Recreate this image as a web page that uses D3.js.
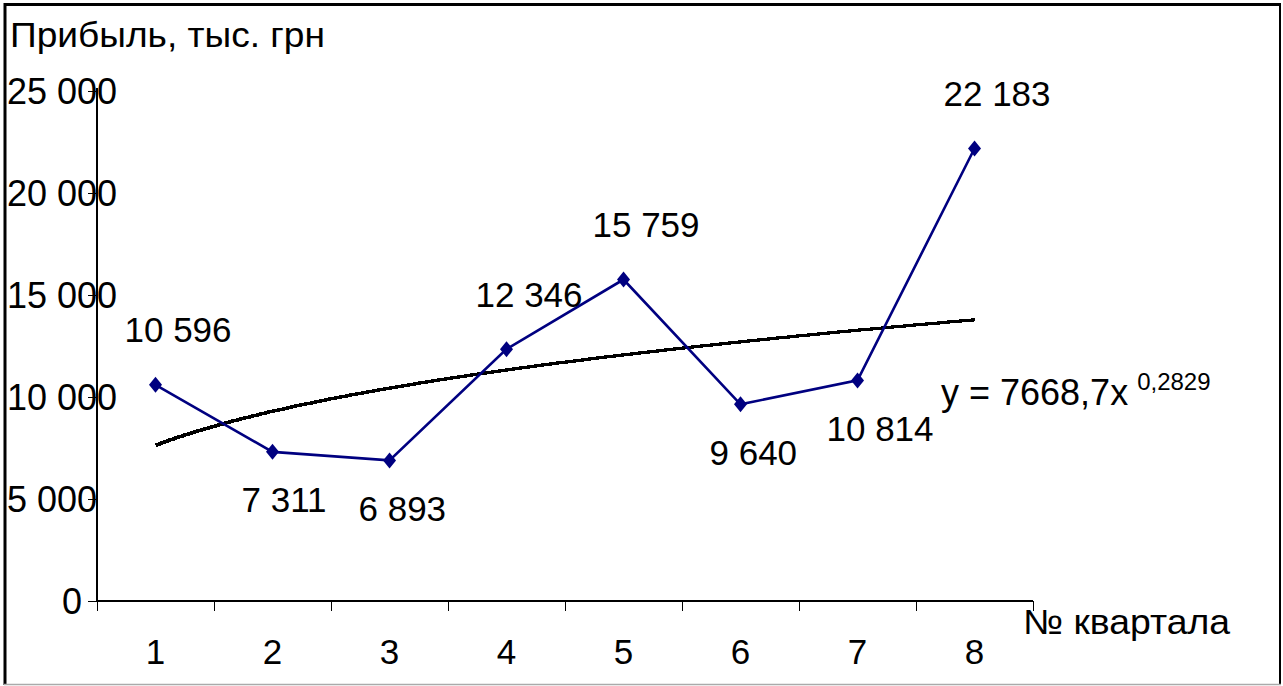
<!DOCTYPE html>
<html>
<head>
<meta charset="utf-8">
<script src="https://cdn.jsdelivr.net/npm/d3@7"></script>
<style>
  html, body { margin: 0; padding: 0; background: #fff; }
  svg text { font-family: "Liberation Sans", Arial, sans-serif; fill: #000; }
</style>
</head>
<body>
<svg id="chart" width="1283" height="686"></svg>
<script>
// Quarterly profit, thousand UAH
const quarters = [1, 2, 3, 4, 5, 6, 7, 8];
const profit = [10596, 7311, 6893, 12346, 15759, 9640, 10814, 22183];
const labelSide = ["above", "below", "below", "above", "above", "below", "below", "above"];
const yTicks = [0, 5000, 10000, 15000, 20000, 25000];
// Power trend y = a * x^b
const trendA = 7668.7;
const trendB = 0.2829;

const svg = d3.select("#chart");
const fmt = v => d3.format(",")(v).replace(/,/g, " ");

const plot = { left: 97, right: 1033, top: 91, bottom: 601 };

const x = d3.scaleBand().domain(quarters).range([plot.left, plot.right]).padding(0);
const cx = q => x(q) + x.bandwidth() / 2;
const xt = d3.scaleLinear().domain([1, 8]).range([cx(1), cx(8)]);
const y = d3.scaleLinear().domain([0, 25000]).range([plot.bottom, plot.top]);

// outer frame
svg.append("line").attr("x1", 5).attr("y1", 3).attr("x2", 5).attr("y2", 685)
  .attr("stroke", "#000").attr("stroke-width", 3);
svg.append("line").attr("x1", 4).attr("y1", 4.5).attr("x2", 1281).attr("y2", 4.5)
  .attr("stroke", "#000").attr("stroke-width", 3);
svg.append("line").attr("x1", 1280).attr("y1", 3).attr("x2", 1280).attr("y2", 685)
  .attr("stroke", "#000").attr("stroke-width", 2);
svg.append("line").attr("x1", 4).attr("y1", 684.5).attr("x2", 1281).attr("y2", 684.5)
  .attr("stroke", "#aaa").attr("stroke-width", 1.5);

// axis titles
svg.append("text").attr("x", 10).attr("y", 47).attr("font-size", 35)
  .attr("textLength", 315).attr("lengthAdjust", "spacingAndGlyphs")
  .text("Прибыль, тыс. грн");
svg.append("text").attr("x", 1023).attr("y", 634).attr("font-size", 35)
  .attr("textLength", 207).attr("lengthAdjust", "spacingAndGlyphs")
  .text("№ квартала");

// y axis
const yAxis = svg.append("g");
yAxis.append("line").attr("x1", plot.left).attr("x2", plot.left)
  .attr("y1", plot.top - 3).attr("y2", plot.bottom + 1)
  .attr("stroke", "#000").attr("stroke-width", 2);
yTicks.forEach(t => {
  yAxis.append("line").attr("x1", plot.left - 9).attr("x2", plot.left)
    .attr("y1", Math.round(y(t)) + 0.5).attr("y2", Math.round(y(t)) + 0.5)
    .attr("stroke", "#000").attr("stroke-width", 1);
  const lbl = yAxis.append("text").attr("font-size", 36)
    .attr("y", y(t)).attr("dy", "0.36em").text(fmt(t));
  const w = lbl.node().getComputedTextLength();
  lbl.attr("x", Math.max(7, 82 - w));
});

// x axis
const xAxis = svg.append("g");
xAxis.append("line").attr("x1", plot.left).attr("x2", plot.right)
  .attr("y1", plot.bottom).attr("y2", plot.bottom)
  .attr("stroke", "#000").attr("stroke-width", 2);
quarters.concat([null]).forEach(q => {
  const px = q === null ? plot.right : x(q);
  xAxis.append("line").attr("x1", Math.round(px) + 0.5).attr("x2", Math.round(px) + 0.5)
    .attr("y1", plot.bottom).attr("y2", plot.bottom + 10)
    .attr("stroke", "#000").attr("stroke-width", 1);
});
quarters.forEach(q => {
  xAxis.append("text").attr("x", cx(q)).attr("y", 664).attr("font-size", 35)
    .attr("text-anchor", "middle").text(q);
});

// trend line, drawn on the pixel grid as a stair-stepped polyline
const trendPts = d3.range(1, 8.0001, 0.01)
  .map(t => [xt(t), Math.round(y(trendA * Math.pow(t, trendB)))]);
svg.append("path").datum(trendPts)
  .attr("d", d3.line().curve(d3.curveStepAfter))
  .attr("fill", "none").attr("stroke", "#000").attr("stroke-width", 3)
  .attr("shape-rendering", "crispEdges");

// series line
const navy = "#000080";
svg.append("path").datum(quarters.map((q, i) => [cx(q), y(profit[i])]))
  .attr("d", d3.line())
  .attr("fill", "none").attr("stroke", navy).attr("stroke-width", 2.6);

// diamond markers
svg.selectAll(".mk").data(quarters).enter().append("path")
  .attr("class", "mk")
  .attr("transform", (q, i) => `translate(${cx(q)},${y(profit[i])})`)
  .attr("d", "M0,-8 L6.5,0 L0,8 L-6.5,0 Z")
  .attr("fill", navy);

// data labels
svg.selectAll(".dl").data(quarters).enter().append("text")
  .attr("class", "dl").attr("font-size", 35)
  .attr("x", q => cx(q) - 31)
  .attr("y", (q, i) => y(profit[i]) + (labelSide[i] === "above" ? -55 : 48))
  .attr("dy", "0.36em")
  .text((q, i) => fmt(profit[i]));

// trend equation
const eq = svg.append("text").attr("x", 941).attr("y", 405).attr("font-size", 36);
eq.append("tspan").text("y = 7668,7x");
eq.append("tspan").attr("dx", 9).attr("dy", -15).attr("font-size", 24).text("0,2829");
</script>
</body>
</html>
